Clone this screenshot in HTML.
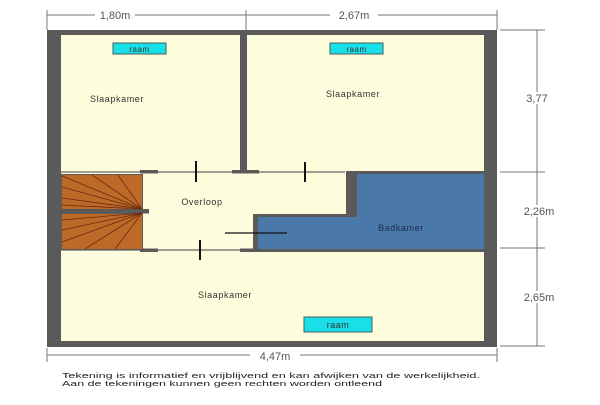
<!DOCTYPE html>
<html><head><meta charset="utf-8"><style>
body{margin:0;background:#fff;width:600px;height:400px;overflow:hidden}
text{font-family:"Liberation Sans",sans-serif}
</style></head><body>
<svg width="600" height="400" viewBox="0 0 600 400" xmlns="http://www.w3.org/2000/svg">
<rect x="0" y="0" width="600" height="400" fill="#fff"/>
<rect x="47" y="30" width="450" height="317" fill="#5a5a5a"/>
<rect x="61" y="35" width="423" height="306" fill="#fdfdde"/>
<rect x="240" y="35" width="7" height="136" fill="#5a5a5a"/>
<line x1="61" y1="172" x2="345" y2="172" stroke="#666" stroke-width="1.2"/>
<rect x="140" y="170" width="18" height="3.5" fill="#5a5a5a"/>
<rect x="232" y="170" width="27" height="3.5" fill="#5a5a5a"/>
<line x1="61" y1="250" x2="260" y2="250" stroke="#666" stroke-width="1.2"/>
<rect x="140" y="248.5" width="18" height="3.5" fill="#5a5a5a"/>
<rect x="240" y="248.5" width="18" height="3.5" fill="#5a5a5a"/>
<path d="M343 171 H484 V252 H253 V214 H346 V171 Z" fill="#5a5a5a"/>
<path d="M357 174 H484 V249 H258 V217 H357 Z" fill="#4a78a8"/>
<rect x="61" y="174" width="82" height="76" fill="#5a5a5a"/>
<rect x="62" y="175" width="80" height="34" fill="#bd6a28"/>
<rect x="62" y="214" width="80" height="35" fill="#bd6a28"/>
<rect x="61" y="209" width="88" height="4.5" fill="#5a5a5a"/>
<g stroke="#6a2a10" stroke-width="0.8">
<line x1="142" y1="209" x2="62" y2="176"/>
<line x1="142" y1="209" x2="62" y2="187"/>
<line x1="142" y1="209" x2="62" y2="198"/>
<line x1="142" y1="209" x2="62" y2="205"/>
<line x1="142" y1="209" x2="92" y2="175"/>
<line x1="142" y1="209" x2="118" y2="175"/>
<line x1="142" y1="213" x2="62" y2="220"/>
<line x1="142" y1="213" x2="62" y2="230"/>
<line x1="142" y1="213" x2="62" y2="242"/>
<line x1="142" y1="213" x2="85" y2="249"/>
<line x1="142" y1="213" x2="115" y2="249"/>
</g>
<g stroke="#111" stroke-width="2">
<line x1="196" y1="161" x2="196" y2="182"/>
<line x1="305" y1="162" x2="305" y2="182"/>
<line x1="200" y1="240" x2="200" y2="260"/>
</g>
<line x1="225" y1="233" x2="287" y2="233" stroke="#111" stroke-width="1.2"/>
<rect x="113" y="43" width="53" height="11" fill="#19e0e8" stroke="#4a5a5a"/>
<text x="139.5" y="52" font-size="8" text-anchor="middle" fill="#333" letter-spacing="0.5">raam</text>
<rect x="330" y="43" width="53" height="11" fill="#19e0e8" stroke="#4a5a5a"/>
<text x="356.5" y="52" font-size="8" text-anchor="middle" fill="#333" letter-spacing="0.5">raam</text>
<rect x="304" y="317" width="68" height="15" fill="#19e0e8" stroke="#4a5a5a"/>
<text x="338" y="328" font-size="9" text-anchor="middle" fill="#333" letter-spacing="0.5">raam</text>
<g font-size="9" fill="#333" text-anchor="middle" letter-spacing="0.6">
<text x="117" y="102">Slaapkamer</text>
<text x="353" y="97">Slaapkamer</text>
<text x="202" y="205">Overloop</text>
<text x="401" y="231" fill="#1a2a50">Badkamer</text>
<text x="225" y="298">Slaapkamer</text>
</g>
<g stroke="#777" stroke-width="1" fill="none">
<line x1="47" y1="15" x2="497" y2="15"/>
<line x1="47" y1="10" x2="47" y2="30"/>
<line x1="246" y1="10" x2="246" y2="30"/>
<line x1="497" y1="10" x2="497" y2="30"/>
<line x1="537" y1="30" x2="537" y2="346"/>
<line x1="500" y1="30" x2="545" y2="30"/>
<line x1="500" y1="172" x2="545" y2="172"/>
<line x1="500" y1="248" x2="545" y2="248"/>
<line x1="500" y1="346" x2="545" y2="346"/>
<line x1="47" y1="355" x2="497" y2="355"/>
<line x1="47" y1="348" x2="47" y2="362"/>
<line x1="497" y1="348" x2="497" y2="362"/>
</g>
<rect x="95" y="9" width="40" height="12" fill="#fff"/>
<rect x="330" y="9" width="48" height="12" fill="#fff"/>
<rect x="250" y="350" width="50" height="12" fill="#fff"/>
<rect x="525" y="92" width="24" height="12" fill="#fff"/>
<rect x="522" y="205" width="32" height="12" fill="#fff"/>
<rect x="522" y="291" width="32" height="12" fill="#fff"/>
<g font-size="11" fill="#555" text-anchor="middle">
<text x="115" y="19">1,80m</text>
<text x="354" y="19">2,67m</text>
<text x="275" y="360">4,47m</text>
<text x="537" y="102">3,77</text>
<text x="539" y="215">2,26m</text>
<text x="539" y="301">2,65m</text>
</g>
<text x="62" y="378" font-size="7.5" fill="#222" textLength="418" lengthAdjust="spacingAndGlyphs">Tekening is informatief en vrijblijvend en kan afwijken van de werkelijkheid.</text>
<text x="62" y="386" font-size="7.5" fill="#222" textLength="320" lengthAdjust="spacingAndGlyphs">Aan de tekeningen kunnen geen rechten worden ontleend</text>
</svg>
</body></html>
